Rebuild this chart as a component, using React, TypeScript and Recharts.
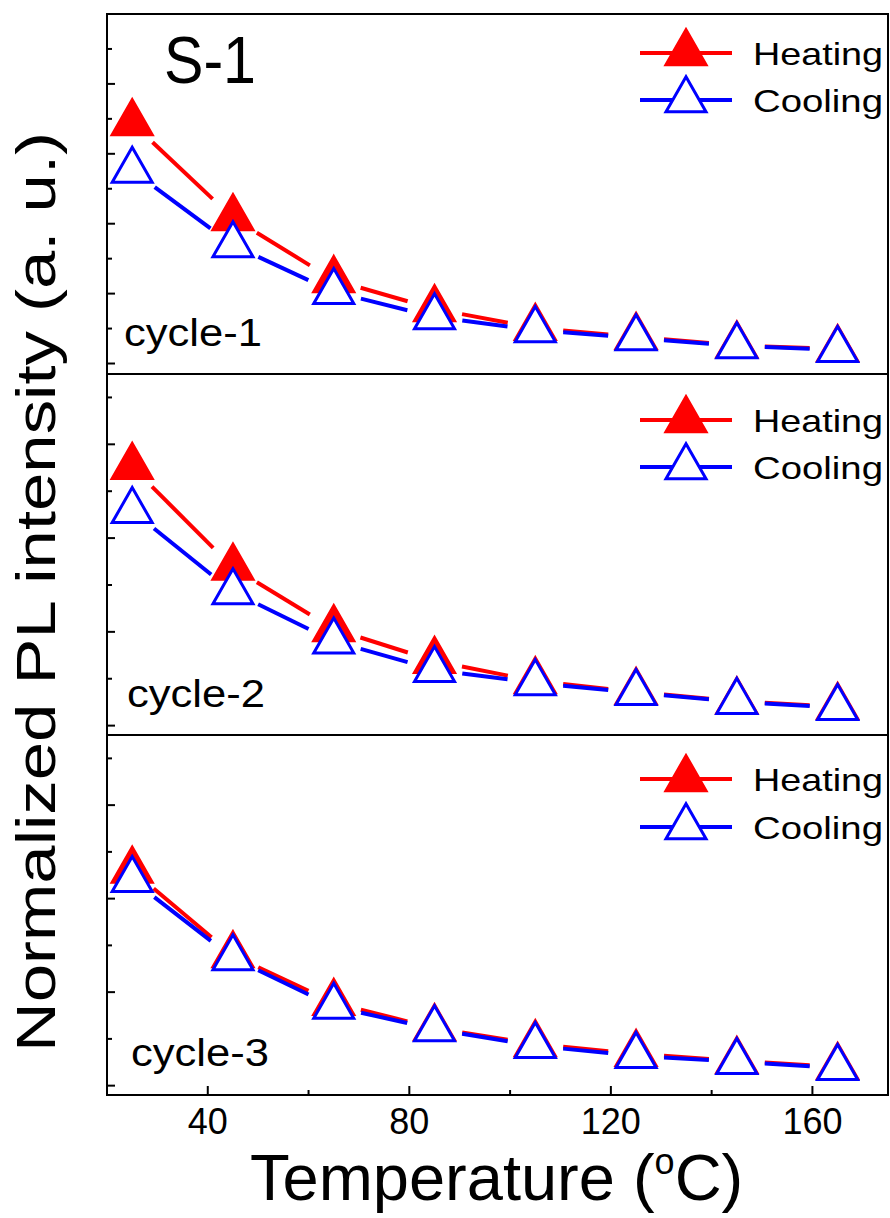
import React from 'react';
import { LineChart, Line, XAxis, YAxis } from 'recharts';

const temps = [25, 45, 65, 85, 105, 125, 145, 165];

const heating1 = [6.88, 4.16, 2.39, 1.56, 1.02, 0.76, 0.52, 0.41];
const cooling1 = [5.52, 3.39, 2.05, 1.33, 0.96, 0.73, 0.5, 0.39];
const heating2 = [5.52, 3.37, 2.06, 1.38, 0.95, 0.72, 0.52, 0.4];
const cooling2 = [4.58, 2.85, 1.8, 1.19, 0.91, 0.7, 0.51, 0.38];
const heating3 = [4.6, 2.79, 1.77, 1.23, 0.89, 0.68, 0.53, 0.4];
const cooling3 = [4.4, 2.73, 1.69, 1.21, 0.85, 0.64, 0.51, 0.38];

const xTicks = [40, 60, 80, 100, 120, 140, 160];
const yTicksTop = [0, 1, 2, 3, 4, 5, 6, 7, 8, 9];
const yTicksLower = [0, 1, 2, 3, 4, 5, 6, 7];
const cycleLabels = ['cycle-1', 'cycle-2', 'cycle-3'];
const seriesNames = ['Heating', 'Cooling'];

const W = 890;
const H = 1218;
const LEFT = 107;
const RIGHT = 888;
const FONT = '"Liberation Sans", Arial, sans-serif';
const RED = '#ff0000';
const BLUE = '#0000ff';

const triPath = (cx: number, cy: number, w = 40, h = 35) =>
  `M${cx},${cy - (2 * h) / 3} L${cx + w / 2},${cy + h / 3} L${cx - w / 2},${cy + h / 3} Z`;

// line segments with gaps around each symbol, like the origin plot
const makeDot = (color: string, filled: boolean) => (props: any) => {
  const { cx, cy, index, points } = props;
  const gap = 28;
  let seg = null;
  const next = points && points[index + 1];
  if (next) {
    const dx = next.x - cx;
    const dy = next.y - cy;
    const len = Math.sqrt(dx * dx + dy * dy);
    if (len > gap * 2) {
      seg = (
        <line
          x1={cx + (dx / len) * gap}
          y1={cy + (dy / len) * gap}
          x2={next.x - (dx / len) * gap}
          y2={next.y - (dy / len) * gap}
          stroke={color}
          strokeWidth={4}
        />
      );
    }
  }
  return (
    <g key={`d-${color}-${index}`}>
      {seg}
      <path
        d={triPath(cx, cy)}
        fill={filled ? color : '#ffffff'}
        stroke={color}
        strokeWidth={3}
      />
    </g>
  );
};

const YTick = (props: any) => {
  const { x, y, payload } = props;
  const len = payload.value % 2 === 0 ? 8 : 5;
  return <line x1={x} x2={x + len} y1={y} y2={y} stroke="#000" strokeWidth={2} />;
};

const XTick = (props: any) => {
  const { x, y, payload } = props;
  const major = payload.value % 40 === 0;
  return (
    <g>
      <line x1={x} x2={x} y1={y} y2={y - (major ? 9 : 5)} stroke="#000" strokeWidth={2} />
      {major && (
        <text x={x} y={y + 39} textAnchor="middle" fontSize={36} fontFamily={FONT} fill="#000">
          {payload.value}
        </text>
      )}
    </g>
  );
};

const panels = [
  { top: 14, bottom: 374, heat: heating1, cool: cooling1, domain: [-0.3, 10], ticks: yTicksTop },
  { top: 374, bottom: 735, heat: heating2, cool: cooling2, domain: [-0.2, 7.5], ticks: yTicksLower },
  { top: 735, bottom: 1095, heat: heating3, cool: cooling3, domain: [-0.2, 7.5], ticks: yTicksLower },
];

const legendY = [
  [53, 100],
  [420, 467],
  [779, 827],
];
const cycleY = [346, 707, 1066];
const cycleX = [124, 127, 131];

export default function App() {
  return (
    <div style={{ position: 'relative', width: W, height: H, background: '#fff' }}>
      <style>{'body{margin:0}'}</style>
      {panels.map((p, pi) => {
        const rows = temps.map((t, i) => ({ t, heating: p.heat[i], cooling: p.cool[i] }));
        const last = pi === panels.length - 1;
        return (
          <div key={pi} style={{ position: 'absolute', left: 0, top: 0 }}>
            <LineChart
              width={W}
              height={H}
              data={rows}
              margin={{
                top: p.top,
                right: W - RIGHT,
                left: LEFT - 100,
                bottom: last ? H - p.bottom - 30 : H - p.bottom,
              }}
            >
              <XAxis
                dataKey="t"
                type="number"
                domain={[20, 175]}
                ticks={xTicks}
                hide={!last}
                height={30}
                axisLine={false}
                tickLine={false}
                tickSize={0}
                tickMargin={0}
                tick={<XTick />}
                interval={0}
              />
              <YAxis
                type="number"
                domain={p.domain}
                ticks={p.ticks}
                width={100}
                axisLine={false}
                tickLine={false}
                tickSize={0}
                tickMargin={0}
                tick={<YTick />}
                interval={0}
              />
              <Line
                dataKey="heating"
                stroke="none"
                dot={makeDot(RED, true)}
                activeDot={false}
                isAnimationActive={false}
              />
              <Line
                dataKey="cooling"
                stroke="none"
                dot={makeDot(BLUE, false)}
                activeDot={false}
                isAnimationActive={false}
              />
            </LineChart>
          </div>
        );
      })}
      <svg
        width={W}
        height={H}
        style={{ position: 'absolute', left: 0, top: 0, pointerEvents: 'none' }}
        fontFamily={FONT}
      >
        <rect x={LEFT} y={14} width={RIGHT - LEFT} height={1095 - 14} fill="none" stroke="#000" strokeWidth={2} />
        <line x1={LEFT} x2={RIGHT} y1={374} y2={374} stroke="#000" strokeWidth={2} />
        <line x1={LEFT} x2={RIGHT} y1={735} y2={735} stroke="#000" strokeWidth={2} />

        <text x={164} y={83} fontSize={66} textLength={92} lengthAdjust="spacingAndGlyphs">
          S-1
        </text>

        {cycleLabels.map((c, i) => (
          <text key={c} x={cycleX[i]} y={cycleY[i]} fontSize={39} textLength={138} lengthAdjust="spacingAndGlyphs">
            {c}
          </text>
        ))}

        {legendY.map((ys, i) => (
          <g key={i}>
            {seriesNames.map((name, j) => (
              <g key={name}>
                <line x1={640} x2={732} y1={ys[j]} y2={ys[j]} stroke={j === 0 ? RED : BLUE} strokeWidth={4} />
                <path
                  d={triPath(686, ys[j])}
                  fill={j === 0 ? RED : '#fff'}
                  stroke={j === 0 ? RED : BLUE}
                  strokeWidth={3}
                />
                <text x={753} y={ys[j] + 12} fontSize={32} textLength={130} lengthAdjust="spacingAndGlyphs">
                  {name}
                </text>
              </g>
            ))}
          </g>
        ))}

        <text
          transform="translate(55,592) rotate(-90)"
          textAnchor="middle"
          fontSize={55}
          textLength={920}
          lengthAdjust="spacingAndGlyphs"
        >
          Normalized PL intensity (a. u.)
        </text>

        <text x={250} y={1200} fontSize={65}>
          Temperature (
          <tspan dy={-26} fontSize={36}>
            o
          </tspan>
          <tspan dy={26}>C)</tspan>
        </text>
      </svg>
    </div>
  );
}
